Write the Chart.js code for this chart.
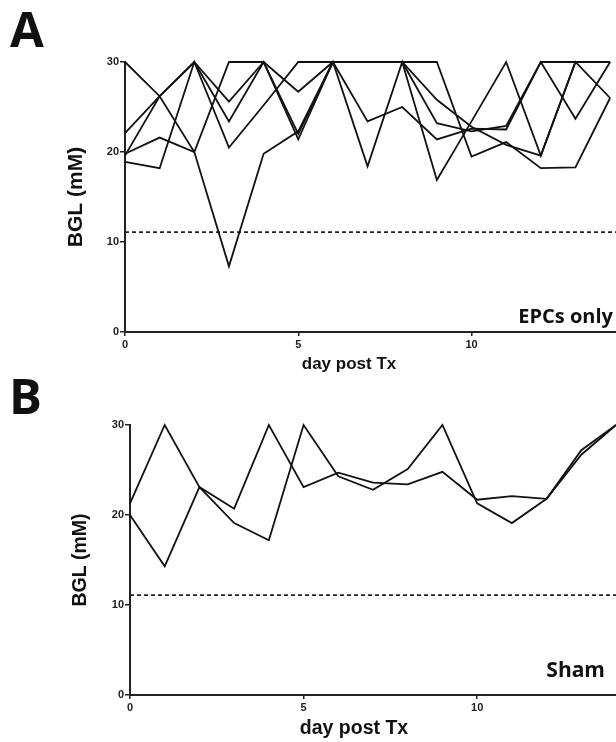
<!DOCTYPE html>
<html>
<head>
<meta charset="utf-8">
<script src="https://cdn.jsdelivr.net/npm/chart.js@4.4.1/dist/chart.umd.min.js"></script>
<style>
  html, body { margin: 0; padding: 0; background: #fff; width: 616px; height: 742px; overflow: hidden; }
  .panel { position: absolute; left: 0; }
  .letter { position: absolute; font-family: "Open Sans", sans-serif; font-weight: 700; font-size: 49px; line-height: 48px; color: #111; }
  .group { position: absolute; font-family: "Open Sans", sans-serif; font-weight: 700; color: #111; white-space: nowrap; }
  .xtitle { position: absolute; font-family: "Liberation Sans", Arial, sans-serif; font-weight: 700; line-height: 1; color: #111; transform: translate(-50%, -50%); white-space: nowrap; }
</style>
</head>
<body>
<div class="letter" style="left:10px; top:4px;">A</div>
<div class="letter" style="left:9px; top:371px;">B</div>

<canvas id="chartA" class="panel" style="top:0px;" width="616" height="360"></canvas>
<canvas id="chartB" class="panel" style="top:370px;" width="616" height="372"></canvas>

<div class="group" style="right:3px; top:306px; font-size:20px; line-height:20px;">EPCs only</div>
<div class="group" style="right:11px; top:659px; font-size:21px; line-height:21px;">Sham</div>
<div class="xtitle" style="left:349px; top:363px; font-size:17px;">day post Tx</div>
<div class="xtitle" style="left:354px; top:728px; font-size:19.5px;">day post Tx</div>

<script>
// days after transplant
const days = [0, 1, 2, 3, 4, 5, 6, 7, 8, 9, 10, 11, 12, 13, 14];

// A: EPCs only, blood glucose per mouse (mM)
const epcMouse1 = [30, 26.2, 20, 7.3, 19.8, 22.3, 30, 30, 30, 30, 19.5, 21.1, 18.2, 18.3, 26.0];
const epcMouse2 = [19.8, 21.6, 20, 30, 30, 26.7, 30, 23.4, 25.0, 21.4, 22.6, 22.5, 30, 30, 30];
const epcMouse3 = [22.1, 26.2, 30, 25.6, 30, 22.0, 30, 18.4, 30, 16.9, 23.4, 30, 19.6, 30, 26.0];
const epcMouse4 = [19.6, 26.2, 30, 23.4, 30, 21.4, 30, 30, 30, 23.2, 22.3, 22.9, 30, 23.7, 30];
const epcMouse5 = [18.9, 18.2, 30, 20.5, 25.2, 30, 30, 30, 30, 25.8, 22.8, 20.8, 19.6, 30, 30];

// B: Sham
const shamMouse1 = [21.3, 30, 23.1, 20.7, 30, 23.1, 24.7, 23.6, 23.4, 24.8, 21.7, 22.1, 21.8, 26.7, 30];
const shamMouse2 = [20.0, 14.3, 23.1, 19.1, 17.2, 30, 24.3, 22.8, 25.1, 30, 21.3, 19.1, 21.8, 27.2, 30];

// diabetes threshold (dashed line)
const threshold = 11.1;
const yTicks = [0, 10, 20, 30];
const xTicks = [0, 5, 10];

const axisColor = "#222";
const tickFont = { family: "Liberation Sans", weight: "bold", size: 11 };

function toPoints(values) {
  return values.map((v, i) => ({ x: days[i], y: v }));
}

function makePanel(canvasId, series, opts) {
  const ctx = document.getElementById(canvasId).getContext("2d");
  const datasets = series.map((values) => ({
    data: toPoints(values),
    borderColor: "#111",
    borderWidth: 1.8,
    pointRadius: 0,
    tension: 0,
    clip: false,
  }));
  datasets.push({
    data: [
      { x: 0, y: threshold },
      { x: opts.xMax, y: threshold },
    ],
    borderColor: "#222",
    borderWidth: 1.6,
    borderDash: [4, 3],
    pointRadius: 0,
    clip: false,
  });

  return new Chart(ctx, {
    type: "line",
    data: { datasets: datasets },
    options: {
      responsive: false,
      animation: false,
      devicePixelRatio: 1,
      layout: { padding: { top: opts.top, left: 0, right: 0, bottom: 0 } },
      plugins: { legend: { display: false }, tooltip: { enabled: false } },
      scales: {
        x: {
          type: "linear",
          min: 0,
          max: opts.xMax,
          afterBuildTicks: (scale) => {
            scale.ticks = xTicks.map((v) => ({ value: v }));
          },
          afterFit: (scale) => {
            scale.height = opts.xAxisHeight;
          },
          ticks: { color: axisColor, font: tickFont, padding: 2, maxRotation: 0 },
          grid: { display: true, drawOnChartArea: false, drawTicks: true, tickLength: 4, lineWidth: 1.5, color: axisColor },
          border: { display: true, width: 2, color: axisColor },
        },
        y: {
          min: 0,
          max: 30,
          afterBuildTicks: (scale) => {
            scale.ticks = yTicks.map((v) => ({ value: v }));
          },
          afterFit: (scale) => {
            scale.width = opts.yAxisWidth;
          },
          title: {
            display: true,
            text: "BGL (mM)",
            color: "#111",
            font: { family: "Liberation Sans", weight: "bold", size: opts.yTitleSize },
            padding: { top: opts.yTitlePad, bottom: 0 },
          },
          ticks: { color: axisColor, font: tickFont, padding: 1 },
          grid: { display: true, drawOnChartArea: false, drawTicks: true, tickLength: 5, lineWidth: 1.5, color: axisColor },
          border: { display: true, width: 2, color: axisColor },
        },
      },
    },
  });
}

makePanel("chartA", [epcMouse1, epcMouse2, epcMouse3, epcMouse4, epcMouse5], {
  xMax: 14.17,
  top: 62,
  xAxisHeight: 28,
  yAxisWidth: 125,
  yTitleSize: 21,
  yTitlePad: 64,
});

makePanel("chartB", [shamMouse1, shamMouse2], {
  xMax: 14.0,
  top: 55,
  xAxisHeight: 47,
  yAxisWidth: 130,
  yTitleSize: 19.5,
  yTitlePad: 69,
});
</script>
</body>
</html>
